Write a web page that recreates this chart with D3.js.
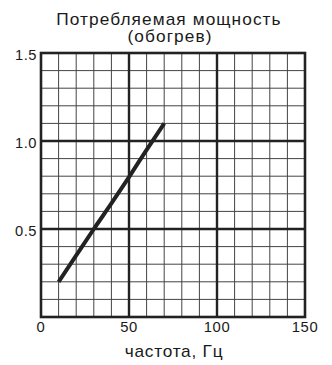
<!DOCTYPE html>
<html><head><meta charset="utf-8">
<script src="https://cdn.jsdelivr.net/npm/d3@7"></script>
<style>body{margin:0;background:#fff}svg{display:block}text{font-family:"Liberation Sans",Arial,sans-serif;fill:#1a1a1a}</style>
</head><body><svg id="c" width="332" height="365"></svg>
<script>
const titleLines = ["Потребляемая мощность", "(обогрев)"];
const xLabel = "частота, Гц";
const xTicks = [0, 50, 100, 150];
const yTicks = [0.5, 1.0, 1.5];
const freq = [10, 20, 30, 40, 50, 60, 70];
const power = [0.2, 0.35, 0.5, 0.645, 0.795, 0.95, 1.1];

const svg = d3.select("#c");
const m = {l: 41, r: 305, t: 53, b: 317};
const x = d3.scaleLinear().domain([0, 150]).range([m.l, m.r]);
const y = d3.scaleLinear().domain([0, 1.5]).range([m.b, m.t]);

function stext(px, py, sx, size, ls, anchor, str) {
  return svg.append("text")
    .attr("transform", `translate(${px},${py}) scale(${sx},1)`)
    .attr("letter-spacing", ls)
    .attr("text-anchor", anchor).attr("font-size", size).text(str);
}

const g = svg.append("g");
// minor grid
d3.range(10, 150, 10).filter(v => v % 50 !== 0).forEach(v => {
  g.append("line").attr("x1", x(v)).attr("x2", x(v)).attr("y1", y(0)).attr("y2", y(1.5))
    .attr("stroke", "#444").attr("stroke-width", 1);
});
d3.range(1, 15).filter(i => i % 5 !== 0).forEach(i => {
  const v = i / 10;
  g.append("line").attr("x1", x(0)).attr("x2", x(150)).attr("y1", y(v)).attr("y2", y(v))
    .attr("stroke", "#444").attr("stroke-width", 1);
});
// major grid
[50, 100].forEach(v => g.append("line").attr("x1", x(v)).attr("x2", x(v)).attr("y1", y(0)).attr("y2", y(1.5))
  .attr("stroke", "#222").attr("stroke-width", 2.4));
[0.5, 1.0].forEach(v => g.append("line").attr("x1", x(0)).attr("x2", x(150)).attr("y1", y(v)).attr("y2", y(v))
  .attr("stroke", "#222").attr("stroke-width", 2.4));
g.append("rect").attr("x", x(0)).attr("y", y(1.5)).attr("width", x(150) - x(0)).attr("height", y(0) - y(1.5))
  .attr("fill", "none").attr("stroke", "#222").attr("stroke-width", 2.6);

// data line
const pts = freq.map((f, i) => [f, power[i]]);
svg.append("path").datum(pts)
  .attr("d", d3.line().x(d => x(d[0])).y(d => y(d[1])).curve(d3.curveMonotoneX))
  .attr("fill", "none").attr("stroke", "#222").attr("stroke-width", 4);

// tick labels
xTicks.forEach(d => stext(x(d), 331.5, 1.06, 14, 0.6, "middle", d));
yTicks.forEach(d => stext(37, y(d) + 7, 1.05, 14, 0.5, "end", d.toFixed(1)));

stext(174, 356.5, 1.08, 16, 0.7, "middle", xLabel);
stext(169, 25, 1.08, 16, 1, "middle", titleLines[0]);
stext(170, 41.5, 1.08, 16, 1, "middle", titleLines[1]);
</script></body></html>
